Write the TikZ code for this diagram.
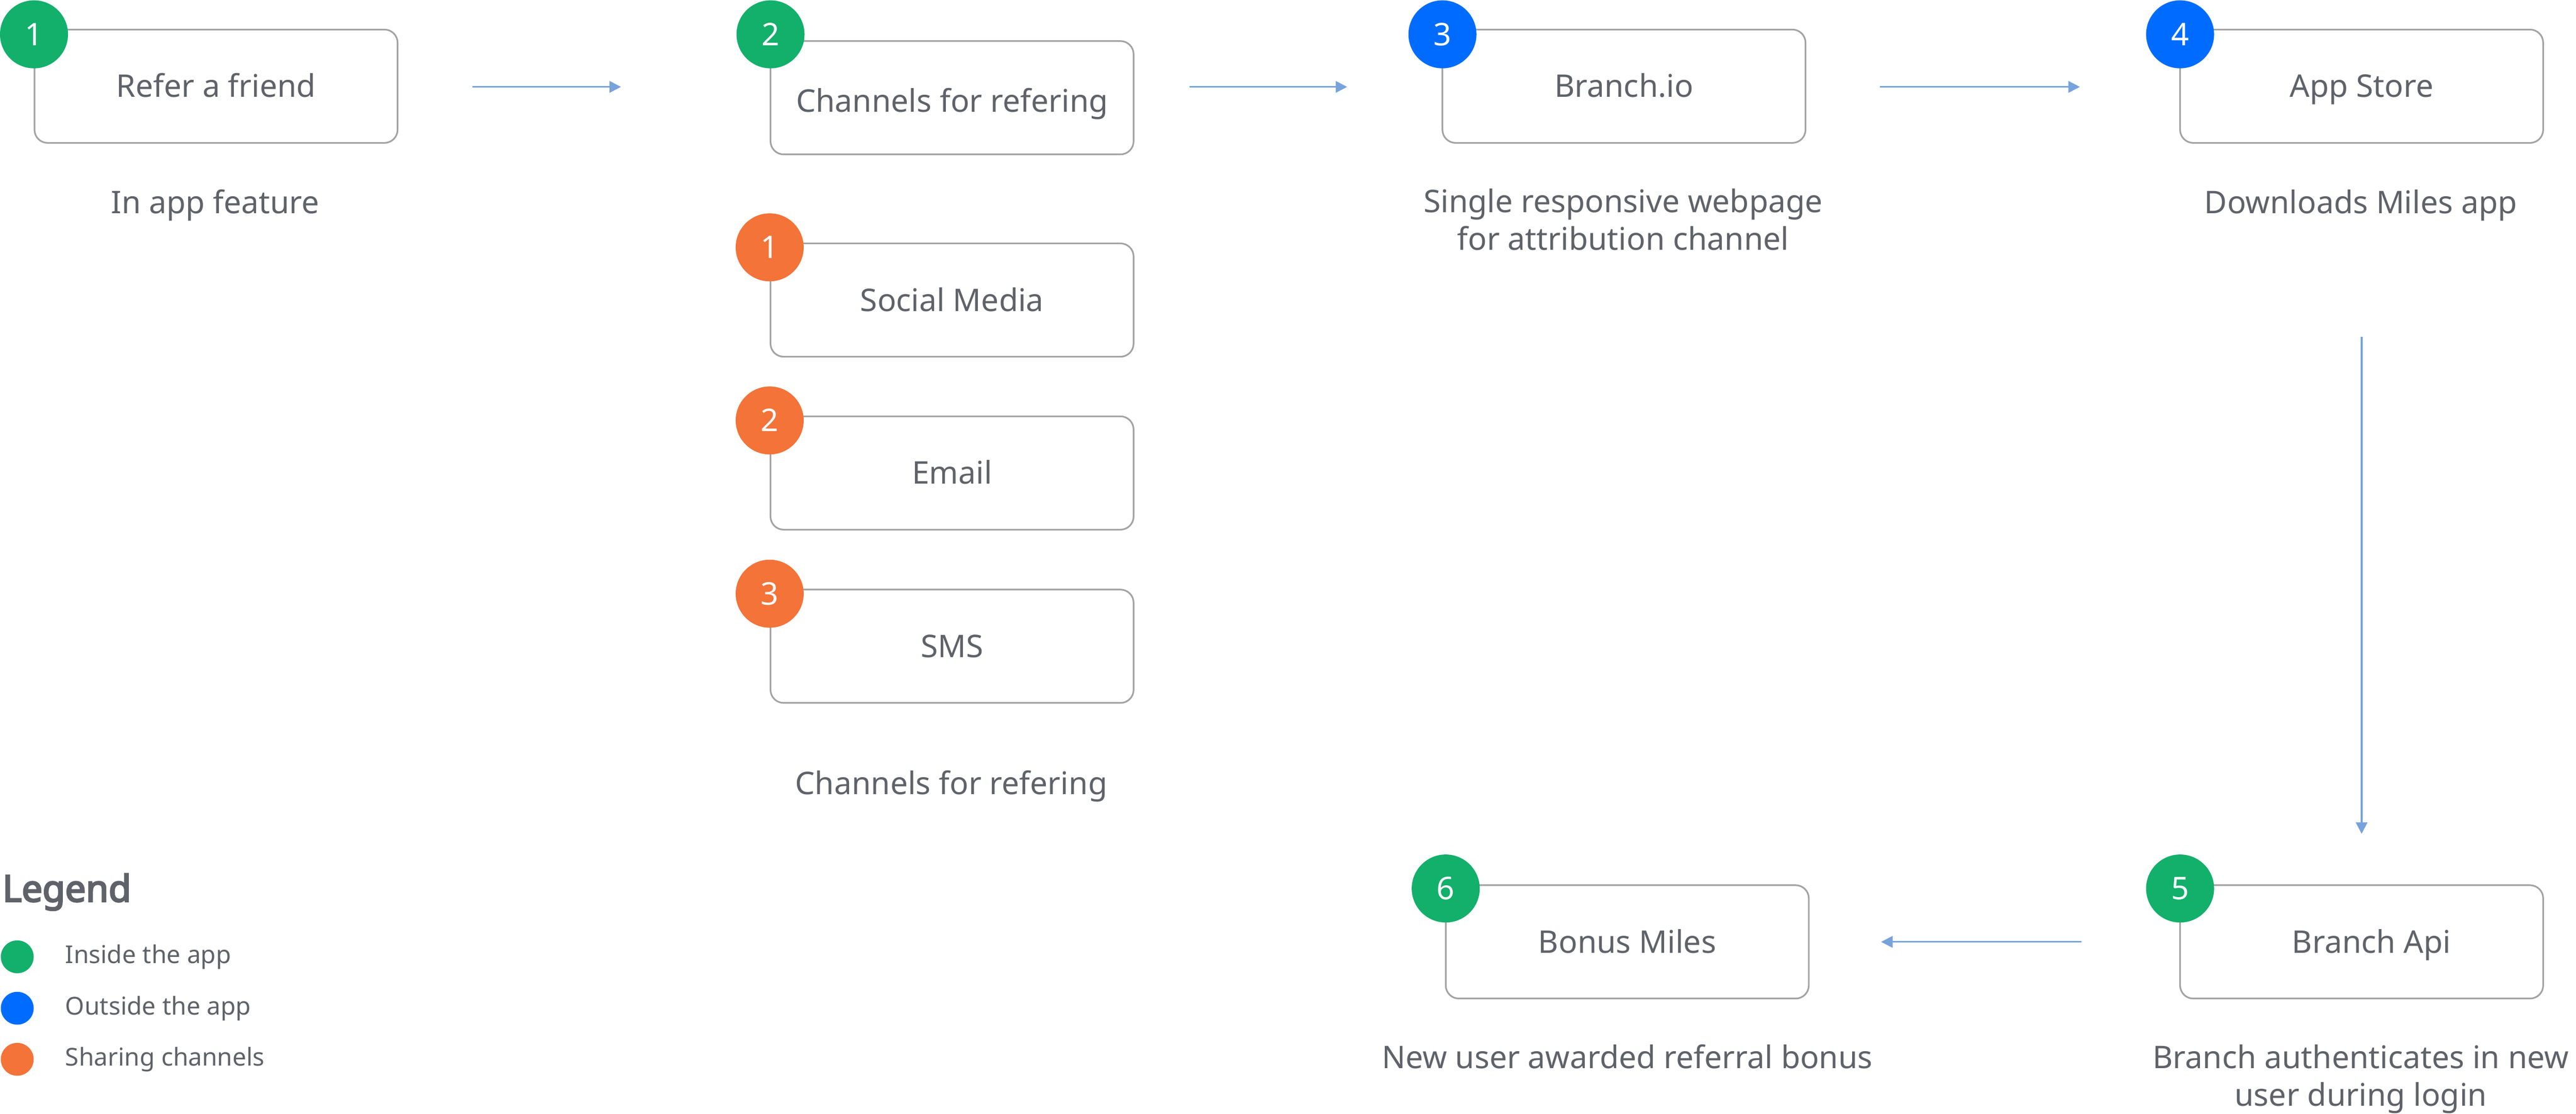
\documentclass[tikz,border=0pt]{standalone}
\usepackage{fontspec}
\setmainfont{Noto Sans}[AutoFakeBold=4]
\usetikzlibrary{arrows.meta}
\definecolor{txtgray}{HTML}{5F6369}
\definecolor{boxgray}{HTML}{A3A3A3}
\definecolor{flowblue}{HTML}{77A3DC}
\definecolor{ingreen}{HTML}{12B06A}
\definecolor{outblue}{HTML}{006CFF}
\definecolor{shareorange}{HTML}{F37338}
\tikzset{
  stepbox/.style={draw=boxgray, line width=1pt, rounded corners=8pt,
    minimum width=221pt, minimum height=69pt, text=txtgray,
    text height=13.5pt, text depth=0pt,
    font=\fontsize{19}{23}\selectfont},
  badge/.style={circle, fill=#1, minimum size=41.4pt, inner sep=0pt,
    text=white, text height=13.5pt, text depth=0pt,
    font=\fontsize{19}{23}\selectfont},
  caption/.style={text=txtgray, align=center, anchor=base, inner sep=0pt,
    font=\fontsize{19}{22.8}\selectfont},
  flow/.style={draw=flowblue, line width=1pt, -{Triangle[length=7pt,width=7pt]}},
  keydot/.style={circle, fill=#1, minimum size=20pt, inner sep=0pt},
  keytext/.style={text=txtgray, anchor=west, inner sep=0pt,
    font=\fontsize{15}{18}\selectfont},
}
\begin{document}
\begin{tikzpicture}[x=1pt,y=-1pt]
  \useasboundingbox[fill=white] (0,0) rectangle (1568,678.2);

  %% main steps
  \node[stepbox] (b1) at (131.5,52.5) {Refer a friend};
  \node[stepbox] (b2) at (579.5,59.5) {\raisebox{-2pt}{Channels for refering}};
  \node[stepbox] (b3) at (988.5,52.5) {Branch.io};
  \node[stepbox] (b4) at (1437.5,52.5) {App Store};
  \node[stepbox] (b5) at (1437.5,573.5) {\hspace{12pt}Branch Api};
  \node[stepbox] (b6) at (990.5,573.5) {Bonus Miles};

  %% sharing channels
  \node[stepbox] (s1) at (579.5,182.7) {Social Media};
  \node[stepbox] (s2) at (579.5,288) {Email};
  \node[stepbox] (s3) at (579.5,393.5) {SMS};

  %% badges
  \node[badge=ingreen] (n1) at (20.7,20.9) {1};
  \node[badge=ingreen] (n2) at (469,20.9) {2};
  \node[badge=outblue] (n3) at (878,20.9) {3};
  \node[badge=outblue] (n4) at (1327,20.9) {4};
  \node[badge=ingreen] (n5) at (1327,541) {5};
  \node[badge=ingreen] (n6) at (880,541) {6};
  \node[badge=shareorange] (o1) at (468.5,150.6) {1};
  \node[badge=shareorange] (o2) at (468.5,256) {2};
  \node[badge=shareorange] (o3) at (468.5,361.5) {3};

  %% captions
  \node[caption] (c1) at (131,130) {In app feature};
  \node[caption] (c2) at (579,483.6) {Channels for refering};
  \node[caption] (c3) at (988,152.3) {Single responsive webpage\\for attribution channel};
  \node[caption] (c4) at (1437,130) {Downloads Miles app};
  \node[caption] (c5) at (1437,673.5) {Branch authenticates in new\\user during login};
  \node[caption] (c6) at (990.5,650.6) {New user awarded referral bonus};

  %% arrows
  \coordinate (a1s) at (287.5,52.9);  \coordinate (a1e) at (378,52.9);
  \coordinate (a2s) at (724,52.9);    \coordinate (a2e) at (820,52.9);
  \coordinate (a3s) at (1144.3,52.9); \coordinate (a3e) at (1266,52.9);
  \coordinate (a4s) at (1437.5,205);  \coordinate (a4e) at (1437.5,507.7);
  \coordinate (a5s) at (1267,573.5);  \coordinate (a5e) at (1145,573.5);
  \draw[flow] (a1s) -- (a1e);
  \draw[flow] (a2s) -- (a2e);
  \draw[flow] (a3s) -- (a3e);
  \draw[flow] (a4s) -- (a4e);
  \draw[flow] (a5s) -- (a5e);

  %% legend
  \node[anchor=base west, inner sep=0pt, text=txtgray,
    font=\fontsize{22.4}{26}\selectfont\bfseries] (lg) at (1.3,549) {Legend};
  \node[keydot=ingreen] (k1) at (10.5,582.6) {};
  \node[keydot=outblue] (k2) at (10.5,613.9) {};
  \node[keydot=shareorange] (k3) at (10.5,645) {};
  \node[keytext] (t1) at (39.6,582.6) {Inside the app};
  \node[keytext] (t2) at (39.6,613.9) {Outside the app};
  \node[keytext] (t3) at (39.6,645) {Sharing channels};
\end{tikzpicture}
\end{document}
